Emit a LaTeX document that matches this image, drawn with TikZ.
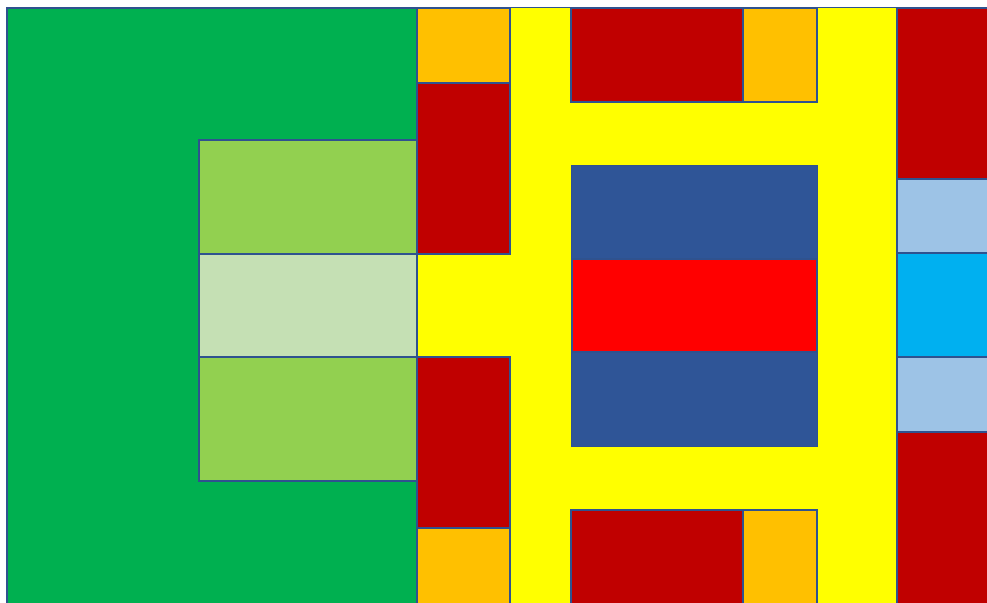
\documentclass[tikz,border=0pt]{standalone}
\begin{document}
\begin{tikzpicture}[x=1pt,y=-1pt,
  blk/.style={draw=edge,line width=2pt},
  thin/.style={draw=edge,line width=1pt}]
\definecolor{edge}{HTML}{2F528F}
\definecolor{cgreen}{HTML}{00B050}
\definecolor{clgreen}{HTML}{92D050}
\definecolor{cpale}{HTML}{C5E0B4}
\definecolor{cdred}{HTML}{C00000}
\definecolor{corange}{HTML}{FFC000}
\definecolor{cyellow}{HTML}{FFFF00}
\definecolor{cblue}{HTML}{2F5597}
\definecolor{cred}{HTML}{FF0000}
\definecolor{clblue}{HTML}{9DC3E6}
\definecolor{ccyan}{HTML}{00B0F0}
\useasboundingbox[fill=white] (0,0) rectangle (987,602);
\begin{scope}
\clip (0,0) rectangle (987,602);
% green
\fill[cgreen,blk] (7,8) rectangle (417,612);
% yellow
\fill[cyellow,thin] (417,8) rectangle (897,612);
% light green stack
\fill[clgreen,blk] (199,140) rectangle (417,254);
\fill[cpale,blk] (199,254) rectangle (417,357);
\fill[clgreen,blk] (199,357) rectangle (417,481);
% left column
\fill[corange,blk] (417,8) rectangle (510,83);
\fill[cdred,blk] (417,83) rectangle (510,254);
\fill[cdred,blk] (417,357) rectangle (510,528);
\fill[corange,blk] (417,528) rectangle (510,612);
% top middle
\fill[cdred,blk] (571,8) rectangle (743,102);
\fill[corange,blk] (743,8) rectangle (817,102);
% centre
\fill[cblue,thin] (571,165) rectangle (817,259);
\fill[cred,blk] (572,259) rectangle (817,352);
\fill[cblue,thin] (571,352) rectangle (817,446);
% bottom middle
\fill[cdred,blk] (571,510) rectangle (743,612);
\fill[corange,blk] (743,510) rectangle (817,612);
% right column
\fill[cdred,blk] (897,8) rectangle (997,179);
\fill[clblue,blk] (897,179) rectangle (997,253);
\fill[ccyan,blk] (897,253) rectangle (997,357);
\fill[clblue,blk] (897,357) rectangle (997,432);
\fill[cdred,blk] (897,432) rectangle (997,612);
\end{scope}
\end{tikzpicture}
\end{document}
